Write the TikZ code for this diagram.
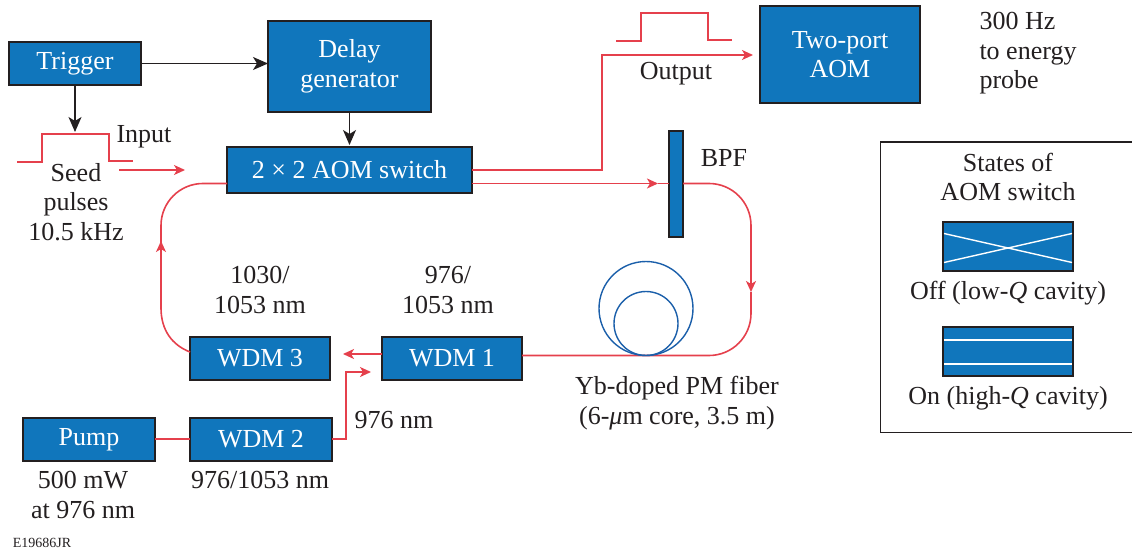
\documentclass[tikz,border=0pt]{standalone}
\usepackage{fontspec}
\setmainfont{Liberation Serif}
\usetikzlibrary{arrows.meta}
\definecolor{boxblue}{HTML}{1076BC}
\definecolor{ringblue}{HTML}{1B5FAA}
\definecolor{fibre}{HTML}{E5404C}
\definecolor{ink}{HTML}{231F20}
\tikzset{
  x=1pt,y=-1pt,
  every node/.style={inner sep=0pt,outer sep=0pt,text=ink,font=\fontsize{26}{29.5}\selectfont,align=center},
  blk/.style={draw=ink,line width=1.6pt,fill=boxblue,text=white,minimum width=#1},
  fibreline/.style={draw=fibre,line width=1.6pt},
  fibrearrow/.style={fibreline,-{Stealth[length=11pt,width=10pt,inset=3pt]}},
  signal/.style={draw=ink,line width=1.4pt,-{Stealth[length=15pt,width=13pt,inset=4pt]}},
  ring/.style={draw=ringblue,line width=1.4pt},
  legendline/.style={draw=white,line width=1.4pt},
}
\begin{document}
\begin{tikzpicture}
\useasboundingbox (0,0) rectangle (1132,553);
% blocks
\node[blk=132pt,minimum height=43pt] (trigger) at (75,63.5) {Trigger};
\node[blk=163pt,minimum height=91pt] (delay) at (349.5,66.5) {Delay\\generator};
\node[blk=245pt,minimum height=46pt] (switch) at (349.5,170) {2 × 2 AOM switch};
\node[blk=160pt,minimum height=97pt] (aom) at (840,54.5) {Two-port\\AOM};
\node[blk=13.5pt,minimum height=106pt] (bpf) at (676,184) {};
\node[blk=140pt,minimum height=43pt] (wdmthree) at (260,358.5) {WDM 3};
\node[blk=140pt,minimum height=43pt] (wdmone) at (452,358.5) {WDM 1};
\node[blk=142pt,minimum height=43pt] (wdmtwo) at (261,439.5) {WDM 2};
\node[blk=132pt,minimum height=43pt] (pump) at (89,439.5) {Pump};
% labels
\node (lbloutrate) at (1028,53.5) [align=left] {300 Hz\\to energy\\probe};
\node (lbloutput) at (676,74) {Output};
\node (lblbpf) at (724,158) {BPF};
\node (lblinput) at (144,137) {Input};
\node (lblseed) at (76,202) {Seed\\pulses\\10.5 kHz};
\node (lblthree) at (260,290) {1030/\\1053 nm};
\node (lblone) at (448,290) {976/\\1053 nm};
\node (lblpump) at (394,420) {976 nm};
\node (lblpower) at (83,495) {500 mW\\at 976 nm};
\node (lbltwo) at (260,480) {976/1053 nm};
\node (lblfiber) at (677,403) {Yb-doped PM fiber\\(6-\textit{μ}m core, 3.5 m)};
\node[font=\fontsize{14}{16}\selectfont] (lblcode) at (42,543) {E19686JR};
% black connectors
\draw[signal] (trigger.east) -- (264,63.5 -| delay.west);
\draw[signal] (trigger.south) -- (75,132);
\draw[signal] (delay.south) -- (349.5,145);
% fibre coordinates
\coordinate (swupper) at (472,170);
\coordinate (swlower) at (472,183.5);
\coordinate (swleft) at (227,183.5);
\coordinate (outknee) at (602,170);
\coordinate (outtip) at (753,55);
\coordinate (bpfmid) at (658,183.5);
\coordinate (bpfleft) at (669,183.5);
\coordinate (bpfright) at (683,183.5);
\coordinate (downtip) at (751,292);
\coordinate (onebottom) at (522,355.5);
\coordinate (oneleft) at (382,354);
\coordinate (threetip) at (343,354);
\coordinate (threeleft) at (190,352);
\coordinate (uptip) at (161,241);
\coordinate (pumpright) at (155,439);
\coordinate (twoleft) at (190,439);
\coordinate (tworight) at (332,439);
\coordinate (pumptip) at (371,372);
\coordinate (seedfrom) at (119,170);
\coordinate (seedto) at (185,170);
% fibre paths
\draw[fibrearrow] (swupper) -- (outknee) |- (outtip);
\draw[fibrearrow] (swlower) -- (bpfmid);
\draw[fibreline] (bpfmid) -- (bpfleft);
\draw[fibreline,rounded corners=42pt] (bpfright) -- (751,183.5) -- (751,250);
\draw[fibrearrow] (751,250) -- (downtip);
\draw[fibreline,rounded corners=42pt] (downtip) -- (751,355.5) -- (onebottom);
\draw[fibrearrow] (oneleft) -- (threetip);
\draw[fibreline] (threeleft) .. controls (172,345) and (161,330) .. (161,308) -- (uptip);
\draw[fibrearrow] (161,270) -- (uptip);
\draw[fibreline,rounded corners=42pt] (uptip) -- (161,183.5) -- (swleft);
\draw[fibreline] (pumpright) -- (twoleft);
\draw[fibrearrow] (tworight) -- (346,439) |- (pumptip);
\draw[fibrearrow] (seedfrom) -- (seedto);
% pulses
\draw[fibreline] (17,162) -- (42,162) -- (42,134) -- (109,134) -- (109,161) -- (133,161);
\draw[fibreline] (616,41) -- (641,41) -- (641,13) -- (708,13) -- (708,40) -- (732,40);
% fibre coil
\coordinate (coilbig) at (646,308.5);
\coordinate (coilsmall) at (646,323.5);
\draw[ring] (coilbig) circle[radius=47pt];
\draw[ring] (coilsmall) circle[radius=32pt];
% legend
\draw[draw=ink,line width=1.2pt] (1136,142) -- (880.5,142) -- (880.5,432.5) -- (1136,432.5);
\node (lblstates) at (1008,177) {States of\\AOM switch};
\node[blk=130pt,minimum height=49pt] (stateoff) at (1008,246.5) {};
\draw[legendline] (944,233.5) -- (1072,262.5);
\draw[legendline] (944,262.5) -- (1072,233.5);
\node (lbloff) at (1008,293) {Off (low-\textit{Q} cavity)};
\node[blk=130pt,minimum height=49pt] (stateon) at (1008,351.5) {};
\draw[legendline] (944,340) -- (1072,340);
\draw[legendline] (944,364) -- (1072,364);
\node (lblon) at (1008,398.5) {On (high-\textit{Q} cavity)};
\end{tikzpicture}
\end{document}
